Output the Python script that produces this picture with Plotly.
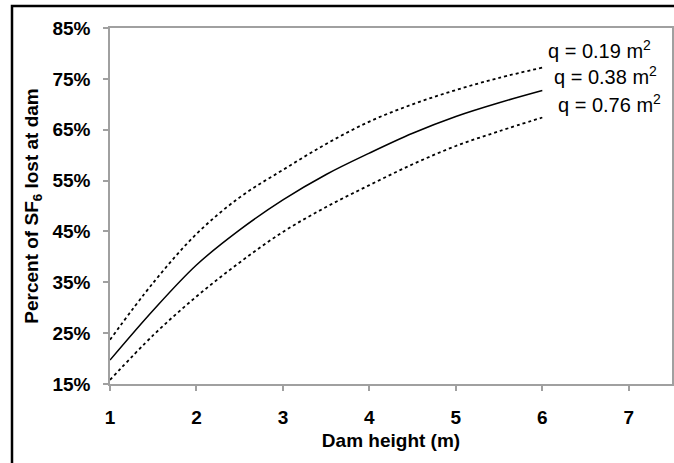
import plotly.graph_objects as go

heights = [1, 1.5, 2, 2.5, 3, 3.5, 4, 4.5, 5, 5.5, 6]
loss_q019 = [23.7, 34.9, 44.5, 51.7, 57.1, 62.2, 66.6, 70.0, 72.8, 75.2, 77.2]
loss_q038 = [19.7, 29.5, 38.4, 45.3, 51.2, 56.2, 60.4, 64.3, 67.6, 70.3, 72.7]
loss_q076 = [15.8, 24.6, 32.2, 38.9, 44.9, 49.8, 54.1, 58.2, 61.8, 64.7, 67.4]
labels = ["q = 0.19 m<sup>2</sup>", "q = 0.38 m<sup>2</sup>", "q = 0.76 m<sup>2</sup>"]
label_x = [6.04, 6.11, 6.16]
label_y = [80.8, 75.6, 70.1]
x_ticks = [1, 2, 3, 4, 5, 6, 7]
y_ticks = [15, 25, 35, 45, 55, 65, 75, 85]
y_ticktext = ["15%", "25%", "35%", "45%", "55%", "65%", "75%", "85%"]

FONT = "Liberation Sans, Arial, sans-serif"

fig = go.Figure()
fig.add_trace(go.Scatter(x=heights, y=loss_q019, mode="lines", line=dict(color="black", width=1.8, dash="dot", shape="spline"), showlegend=False))
fig.add_trace(go.Scatter(x=heights, y=loss_q038, mode="lines", line=dict(color="black", width=1.5, shape="spline"), showlegend=False))
fig.add_trace(go.Scatter(x=heights, y=loss_q076, mode="lines", line=dict(color="black", width=1.8, dash="dot", shape="spline"), showlegend=False))

for lab, xx, yy in zip(labels, label_x, label_y):
    fig.add_annotation(x=xx, y=yy, text=lab, showarrow=False, xanchor="left", yanchor="middle",
                       font=dict(family=FONT, size=20, color="black"))

# outer black frame (page px -> paper coords; plot area 110..672 x 28..384)
fig.add_shape(type="rect", xref="paper", yref="paper",
              x0=(12 - 110) / 562, x1=(720 - 110) / 562,
              y0=(384 - 500) / 356, y1=(384 - 6) / 356,
              line=dict(color="black", width=2.5), fillcolor="rgba(0,0,0,0)", layer="above")

fig.update_layout(
    width=674, height=463,
    margin=dict(l=110, r=2, t=28, b=79, autoexpand=False),
    paper_bgcolor="white", plot_bgcolor="white",
    font=dict(family=FONT, size=18, color="black"),
    xaxis=dict(range=[1, 7.5], tickvals=x_ticks, showgrid=False, zeroline=False,
               showline=True, mirror=True, linecolor="#a0a0a0", linewidth=1.5,
               ticks="outside", ticklen=5, tickcolor="#a0a0a0", tickwidth=1.5,
               tickfont=dict(family=FONT, size=19, color="black", weight="bold"),
               ticklabelstandoff=10, automargin=False,
               title=dict(text="<b>Dam height (m)</b>", font=dict(family=FONT, size=19), standoff=7)),
    yaxis=dict(range=[15, 85], tickvals=y_ticks, ticktext=y_ticktext, showgrid=False, zeroline=False,
               showline=True, mirror=True, linecolor="#a0a0a0", linewidth=1.5,
               ticks="outside", ticklen=5, tickcolor="#a0a0a0", tickwidth=1.5,
               tickfont=dict(family=FONT, size=19, color="black", weight="bold"),
               ticklabelstandoff=9, automargin=False,
               title=dict(text="<b>Percent of SF<sub>6</sub> lost at dam</b>", font=dict(family=FONT, size=19), standoff=9)),
)

fig.write_html("out.html", config={"displayModeBar": False}, post_script="document.body.style.margin='0';")
